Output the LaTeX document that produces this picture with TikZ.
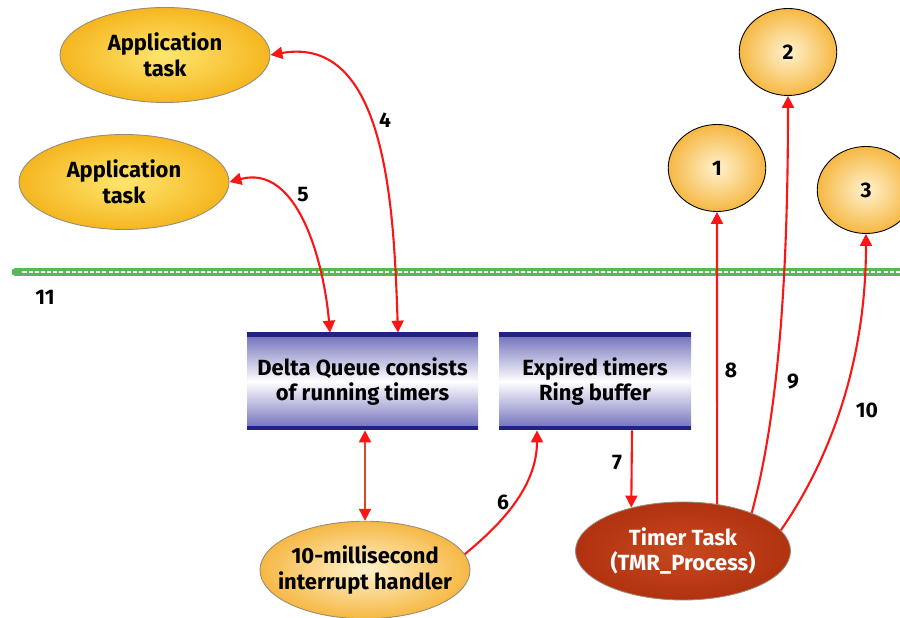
\documentclass[tikz,border=0pt]{standalone}
\usepackage{fontspec}
\setmainfont{Fira Sans}
\usepackage{tikz}
\usetikzlibrary{shapes,arrows.meta}

\definecolor{arrowRed}{RGB}{250,22,22}
\definecolor{shaftRed}{RGB}{214,72,40}
\definecolor{taskYellow}{RGB}{245,182,32}
\definecolor{taskLight}{RGB}{255,230,110}
\definecolor{ballOrange}{RGB}{246,184,68}
\definecolor{ballLight}{RGB}{255,242,205}
\definecolor{rustRed}{RGB}{178,50,16}
\definecolor{rustLight}{RGB}{198,72,30}
\definecolor{queueBlue}{RGB}{108,108,186}
\definecolor{queueEdge}{RGB}{34,34,128}
\definecolor{busGreen}{RGB}{88,184,88}
\definecolor{rimGray}{RGB}{150,140,120}

\begin{document}
\begin{tikzpicture}[line/.style={-{Triangle[length=2.4mm,width=2.4mm]}, draw=arrowRed, line width=1.2pt},
  twoway/.style={line, {Triangle[length=2.4mm,width=2.4mm]}-{Triangle[length=2.4mm,width=2.4mm]}},
  num/.style={black, inner sep=1pt, font=\fontsize{12}{14}\selectfont\bfseries},
  boxfont/.style={font=\fontsize{12.5}{14.7}\selectfont\bfseries},
  task/.style={ellipse, draw=rimGray, line width=0.5pt, shading=radial, inner color=taskLight, outer color=taskYellow, minimum width=4.2cm, minimum height=1.9cm, inner sep=1pt, align=center, boxfont},
  ball/.style={ellipse, draw=rimGray, line width=0.5pt, shading=radial, inner color=ballLight, outer color=ballOrange, minimum width=1.95cm, minimum height=1.74cm, inner sep=0, num},
  queue/.style={rectangle, minimum height=1.94cm, top color=queueBlue, bottom color=queueBlue, middle color=white, align=center, boxfont,
    path picture={\draw[queueEdge, line width=4.5pt] (path picture bounding box.north west) -- (path picture bounding box.north east)
      (path picture bounding box.south west) -- (path picture bounding box.south east);}}]

  \useasboundingbox (0,0) rectangle (18,12.36);

  % bus line
  \draw [busGreen, line width=4pt, line cap=round] (0.3,6.92) -- (18,6.92);
  \draw [white, line width=0.7pt, dash pattern=on 2.3pt off 1.2pt] (0.45,6.92) -- (18,6.92);
  \node [num] (lblEleven) at (0.9,6.42) {11};

  \node[task]  (appTaskA) at (3.3,11.26)  {Application\\task};
  \node[task]  (appTaskB) at (2.48,8.72)  {Application\\task};
  \node[ball]  (ballOne)   at (14.34,9.0)  {1};
  \node[ball]  (ballTwo)   at (15.76,11.32) {2};
  \node[ball]  (ballThree) at (17.32,8.56) {3};

  \node[queue, minimum width=4.62cm] (deltaQueue) at (7.25,4.73) {Delta Queue consists\\of running timers};
  \node[queue, minimum width=3.84cm] (ringBuffer) at (11.9,4.73) {Expired timers\\Ring buffer};

  \node[task, inner color=ballLight, outer color=ballOrange, inner xsep=-2.6mm, minimum height=1.95cm] (intHandler) at (7.3,0.96) {10-millisecond\\interrupt handler};
  \node[task, shading=radial, inner color=rustLight, outer color=rustRed, text=white, minimum width=4.3cm, minimum height=1.96cm] (timerTask) at (13.66,1.34) {Timer Task\\(TMR\_Process)};

  \draw [twoway] ([xshift=7.1mm]deltaQueue.north) to[out=92, in=10] (appTaskA.east);
  \draw [twoway] ([xshift=-6.5mm]deltaQueue.north) to[out=95, in=15] (appTaskB.east);
  \draw [twoway, draw=shaftRed, {Triangle[length=2.4mm,width=2.4mm,color=arrowRed]}-{Triangle[length=2.4mm,width=2.4mm,color=arrowRed]}] (intHandler.north) -- (intHandler.north |- deltaQueue.south);
  \draw [line] (intHandler.9) .. controls +(0.6,0.5) and +(0,-1.2) .. ([xshift=-11.6mm]ringBuffer.south);
  \draw [line] ([xshift=7.4mm]ringBuffer.south) -- (timerTask.140);
  \draw [line] (timerTask.54) -- (ballOne.south);
  \draw [line] (timerTask.29) .. controls +(0.5,1.85) and +(0,-3.9) .. (ballTwo.south);
  \draw [line] (timerTask.12) .. controls +(0.9,1.3) and +(0,-2.7) .. (ballThree.south);

  \node [num] (lblFour)  at (7.7,9.96)   {4};
  \node [num] (lblFive)  at (6.06,8.46)  {5};
  \node [num] (lblSix)   at (10.06,2.32) {6};
  \node [num] (lblSeven) at (12.34,3.1)  {7};
  \node [num] (lblEight) at (14.62,4.96) {8};
  \node [num] (lblNine)  at (15.86,4.72) {9};
  \node [num] (lblTen)   at (17.34,4.16) {10};
\end{tikzpicture}
\end{document}
